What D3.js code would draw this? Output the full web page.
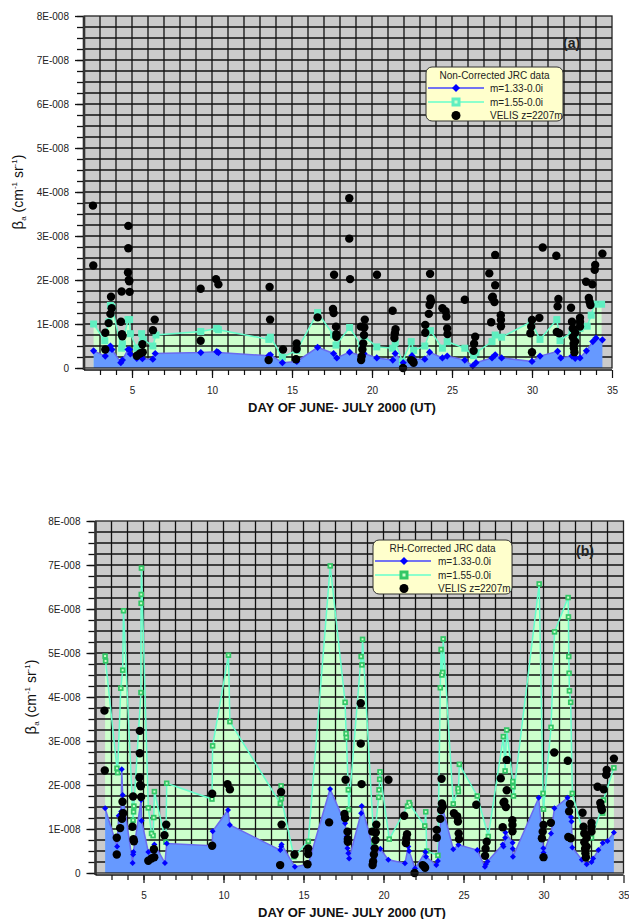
<!DOCTYPE html>
<html><head><meta charset="utf-8">
<script src="https://cdn.jsdelivr.net/npm/d3@7/dist/d3.min.js"></script>
<style>body{margin:0;background:#fff}text{font-family:"Liberation Sans",Arial,sans-serif}</style>
</head><body>
<svg id="c" width="629" height="919"></svg>
<script>
// ---- data (values in units of 1E-008 cm-1 sr-1) ----
const xTicks = [5, 10, 15, 20, 25, 30, 35];
const yTicks = [0, 1, 2, 3, 4, 5, 6, 7, 8];
const yTickLabels = ["0", "1E-008", "2E-008", "3E-008", "4E-008", "5E-008", "6E-008", "7E-008", "8E-008"];
const xTitle = "DAY OF JUNE- JULY 2000 (UT)";
const seriesNames = ["m=1.33-0.0i", "m=1.55-0.0i", "VELIS z=2207m"];
const legendTitles = ["Non-Corrected JRC data", "RH-Corrected JRC data"];
const panelLabels = ["(a)", "(b)"];

const velis = [[2.56,3.69],[2.58,2.33],[3.33,0.80],[3.33,0.42],[3.54,1.02],[3.65,1.23],[3.69,1.62],[3.73,1.36],
 [4.31,1.05],[4.35,1.74],[4.37,0.77],[4.40,0.72],[4.75,2.17],[4.77,3.23],[4.77,2.72],[4.80,2.0],[4.83,1.97],[4.85,1.73],
 [5.30,0.28],[5.50,0.33],[5.65,0.54],[5.67,0.36],[6.31,0.86],[6.42,1.10],[9.29,1.80],[9.29,0.62],[10.25,2.02],[10.40,1.90],
 [13.54,0.18],[13.60,1.84],[13.63,1.10],[14.44,0.42],[15.25,0.20],[15.29,0.56],[15.29,0.43],[16.60,1.15],
 [17.56,1.34],[17.60,1.25],[17.63,2.12],[17.75,0.94],[17.77,0.77],[17.77,0.71],[18.58,3.86],[18.58,2.94],[18.63,2.02],
 [19.30,0.94],[19.32,0.18],[19.35,0.26],[19.40,0.42],[19.45,0.56],[19.50,0.75],[19.52,0.92],[19.55,1.10],[20.31,2.12],
 [21.29,1.30],[21.40,0.68],[21.43,0.79],[21.47,0.88],[21.94,0.0],[22.45,0.18],[22.55,0.15],[22.60,0.12],
 [23.33,0.98],[23.33,0.80],[23.55,1.23],[23.60,1.43],[23.63,2.14],[23.65,1.58],[23.70,1.51],
 [24.40,1.36],[24.60,1.29],[24.65,1.17],[24.70,0.90],[24.72,0.77],[25.80,1.55],[26.35,0.39],[26.38,0.55],[26.45,0.71],
 [27.33,2.15],[27.45,1.04],[27.50,1.60],[27.55,1.62],[27.65,1.50],[27.70,2.57],[27.70,1.88],[28.05,1.20],[28.06,1.09],[28.06,0.95],
 [29.90,0.79],[29.95,0.94],[30.00,1.09],[30.00,0.36],[30.46,1.14],[30.67,2.74],[31.52,2.55],[31.55,0.82],[31.60,1.40],[31.65,1.57],[31.70,0.79],
 [32.44,1.37],[32.50,1.05],[32.55,0.90],[32.55,0.70],[32.60,0.55],[32.62,0.45],[32.65,0.36],[32.70,0.80],[32.70,0.60],
 [33.00,1.14],[33.00,1.05],[33.00,0.94],[33.38,1.96],[33.55,1.59],[33.60,1.50],[33.65,1.43],[33.77,1.90],[33.92,2.23],[33.95,2.34],[34.40,2.60]];

const a155 = [[2.6,1.0],[3.3,0.62],[3.55,1.05],[3.65,1.42],[3.75,1.38],[4.35,0.45],[4.4,0.55],[4.75,1.1],[4.85,1.1],[4.9,0.78],
 [5.3,0.45],[5.6,0.78],[5.7,0.65],[6.3,0.5],[6.5,0.75],[9.3,0.83],[10.3,0.9],[10.4,0.87],[13.55,0.65],[13.65,0.7],[14.4,0.25],
 [15.3,0.4],[16.6,1.26],[17.6,0.75],[17.75,0.52],[18.6,0.92],[19.35,0.5],[19.5,0.72],[20.3,0.48],[21.3,0.45],[21.45,0.58],
 [21.9,0.15],[22.45,0.6],[22.6,0.4],[23.3,0.5],[23.65,0.85],[24.4,0.45],[24.7,0.6],[25.8,0.45],[26.35,0.28],[26.5,0.35],
 [27.5,0.6],[27.7,0.75],[28.1,0.7],[29.95,1.05],[30.5,0.65],[31.55,1.1],[31.75,0.62],[32.5,0.82],[32.7,0.7],[33.0,0.9],
 [33.45,0.95],[33.7,1.2],[33.9,1.45],[34.35,1.45]];

const a133 = [[2.6,0.39],[3.33,0.27],[3.55,0.45],[3.65,0.5],[3.75,0.42],[4.3,0.12],[4.4,0.18],[4.75,0.42],[4.85,0.42],[4.9,0.32],
 [5.3,0.22],[5.6,0.28],[5.65,0.21],[6.3,0.2],[6.45,0.33],[9.3,0.35],[10.3,0.37],[10.4,0.35],[13.55,0.28],[13.65,0.3],[14.4,0.12],
 [15.3,0.15],[16.6,0.47],[17.6,0.33],[17.8,0.23],[18.6,0.36],[19.4,0.27],[19.5,0.33],[20.3,0.23],[21.3,0.18],[21.45,0.33],
 [21.95,0.12],[22.5,0.28],[22.6,0.2],[23.3,0.2],[23.6,0.36],[24.4,0.23],[24.7,0.27],[25.8,0.18],[26.3,0.05],[26.5,0.12],
 [27.5,0.23],[27.7,0.3],[28.1,0.23],[30.0,0.15],[30.5,0.27],[31.6,0.38],[31.8,0.23],[32.5,0.27],[32.7,0.22],[33.0,0.23],
 [33.4,0.39],[33.8,0.6],[34.0,0.68],[34.4,0.64]];

const b155 = [[2.6,4.93],[2.63,4.82],[3.34,2.38],[3.38,2.28],[3.58,4.2],[3.7,4.61],[3.75,5.96],[4.35,1.2],[4.38,1.39],[4.4,1.52],
 [4.84,4.1],[4.85,6.13],[4.86,6.33],[4.87,6.93],[5.3,1.48],[5.5,0.9],[5.6,0.85],[5.64,1.26],[5.68,1.85],[6.4,0.7],[6.45,2.04],
 [9.28,1.68],[9.32,2.89],[10.31,4.95],[10.4,3.44],[13.55,1.58],[13.6,1.98],[13.62,1.69],[14.4,0.37],[15.3,0.72],[16.67,6.98],
 [17.6,3.88],[17.66,3.17],[17.68,3.08],[17.8,1.89],[17.82,1.44],[18.6,4.92],[18.65,4.73],[18.69,5.31],[19.4,0.7],[19.7,1.72],
 [19.72,1.89],[19.76,2.13],[19.78,2.3],[20.36,0.77],[21.5,1.52],[21.6,1.6],[21.65,1.55],[22.58,1.07],[22.64,1.39],[22.7,0.5],
 [23.4,0.4],[23.55,4.21],[23.6,5.08],[23.65,4.5],[23.7,4.56],[23.73,5.32],[24.36,1.57],[24.66,1.92],[24.68,1.85],[24.74,2.47],
 [25.86,1.75],[26.55,0.83],[27.49,3.1],[27.6,2.32],[27.7,3.25],[28.08,2.08],[28.1,1.96],[28.12,1.75],[29.73,6.57],[29.97,1.81],
 [30.0,1.45],[30.47,3.31],[30.69,5.48],[31.54,6.26],[31.56,5.82],[31.58,4.92],[31.6,4.54],[31.62,4.14],[31.7,3.88],[31.8,1.81],
 [32.5,0.9],[33.0,0.8],[33.6,1.43],[33.7,1.36],[33.75,1.66],[34.4,2.39]];

const b133 = [[2.6,1.47],[3.35,0.6],[3.45,1.3],[3.6,1.4],[3.64,2.36],[3.7,1.77],[4.32,0.23],[4.35,0.42],[4.37,0.48],[4.85,1.66],
 [4.88,1.19],[5.3,0.48],[5.68,0.65],[6.34,0.23],[6.45,0.67],[9.3,0.62],[9.32,0.95],[10.28,1.43],[10.4,1.09],[13.55,0.52],
 [13.6,0.6],[13.63,0.65],[14.46,0.14],[15.3,0.2],[16.66,1.91],[17.6,1.13],[17.7,0.83],[17.75,0.56],[17.8,0.45],[17.85,0.33],[18.6,1.36],
 [18.64,1.52],[19.35,0.57],[19.4,0.33],[19.8,0.55],[20.3,0.3],[21.34,0.22],[21.55,0.6],[21.6,0.5],[21.97,0.1],
 [22.62,0.48],[22.66,0.37],[23.3,0.18],[23.4,0.27],[23.64,1.55],[24.36,0.54],[24.68,0.64],[25.86,0.52],[26.34,0.14],[26.4,0.2],[26.5,0.26],
 [27.45,0.65],[27.5,0.6],[27.6,0.8],[27.62,0.92],[28.07,0.69],[28.08,0.55],[28.09,0.37],[29.7,1.71],[29.99,0.56],[30.0,0.46],[30.47,0.9],
 [30.68,1.47],[31.5,1.71],[31.72,1.27],[31.75,1.17],[31.8,0.58],[32.4,0.3],[32.7,0.2],[33.0,0.25],[33.1,0.33],[33.43,0.52],[33.7,0.68],
 [34.0,0.73],[34.4,0.92]];

// ---- drawing ----
const svg = d3.select("#c");

function panel(o) {
  const g = svg.append("g");
  const x = d3.scaleLinear().domain([2, 35]).range([o.l, o.r]);
  const y = d3.scaleLinear().domain([0, 8]).range([o.b, o.t]);
  const cid = "clip" + o.id;
  svg.append("clipPath").attr("id", cid).append("rect")
    .attr("x", o.l).attr("y", o.t).attr("width", o.r - o.l).attr("height", o.b - o.t);

  g.append("rect").attr("x", o.l).attr("y", o.t).attr("width", o.r - o.l).attr("height", o.b - o.t)
    .attr("fill", "#cbcbcb");

  const area = d3.area().x(d => x(d[0])).y0(y(0)).y1(d => y(d[1]));
  const line = d3.line().x(d => x(d[0])).y(d => y(d[1]));
  const inner = g.append("g").attr("clip-path", `url(#${cid})`);

  inner.append("path").datum(o.s155).attr("d", area).attr("fill", "#ccffcc");

  // grid
  inner.selectAll(".gv").data(d3.range(3, 35)).join("line")
    .attr("x1", d => x(d)).attr("x2", d => x(d)).attr("y1", o.t).attr("y2", o.b)
    .attr("stroke", "#111").attr("stroke-width", 1.3);
  inner.selectAll(".gh").data(d3.range(1, 32).map(i => i * 0.25)).join("line")
    .attr("x1", o.l).attr("x2", o.r).attr("y1", d => y(d)).attr("y2", d => y(d))
    .attr("stroke", "#111").attr("stroke-width", 1.3);

  inner.append("path").datum(o.s155).attr("d", line).attr("fill", "none")
    .attr("stroke", "#66ffcc").attr("stroke-width", 1.5);
  inner.append("path").datum(o.s133).attr("d", area).attr("fill", "#6699ff");
  inner.append("path").datum(o.s133).attr("d", line).attr("fill", "none")
    .attr("stroke", "#6a6af0").attr("stroke-width", 1.5);

  // markers
  const sq = o.sqSize;
  g.selectAll(".sq").data(o.s155).join("rect")
    .attr("x", d => x(d[0]) - sq / 2).attr("y", d => y(d[1]) - sq / 2)
    .attr("width", sq).attr("height", sq).attr("fill", o.sqColor);
  if (o.sqDot) {
    g.selectAll(".sqd").data(o.s155).join("rect")
      .attr("x", d => x(d[0]) - 1).attr("y", d => y(d[1]) - 1)
      .attr("width", 2).attr("height", 2).attr("fill", "#ccffcc");
  }
  const dm = o.dmSize;
  g.selectAll(".dm").data(o.s133).join("path")
    .attr("d", d => `M${x(d[0])},${y(d[1]) - dm}L${x(d[0]) + dm},${y(d[1])}L${x(d[0])},${y(d[1]) + dm}L${x(d[0]) - dm},${y(d[1])}Z`)
    .attr("fill", "#0000ff");
  g.selectAll(".ci").data(velis).join("circle")
    .attr("cx", d => x(d[0])).attr("cy", d => y(d[1])).attr("r", 4.2).attr("fill", "#000");

  // frame
  g.append("rect").attr("x", o.l).attr("y", o.t).attr("width", o.r - o.l).attr("height", o.b - o.t)
    .attr("fill", "none").attr("stroke", "#222").attr("stroke-width", 1.3);
  g.append("line").attr("x1", o.l).attr("x2", o.l).attr("y1", o.t).attr("y2", o.b + 2)
    .attr("stroke", "#333").attr("stroke-width", 2.6);

  // y axis
  const yAx = g.append("g").attr("transform", `translate(${o.l - 1},0)`)
    .call(d3.axisLeft(y).tickValues(yTicks).tickFormat((d, i) => yTickLabels[i]).tickSize(8).tickPadding(6));
  yAx.select(".domain").remove();
  yAx.selectAll("line").attr("stroke", "#111").attr("stroke-width", 1.3);
  yAx.selectAll("text").attr("font-size", 10).attr("fill", "#222")
    .style("font-family", '"Liberation Sans", Arial, sans-serif');
  const yMin = g.append("g").attr("transform", `translate(${o.l - 1},0)`)
    .call(d3.axisLeft(y).tickValues(d3.range(0, 33).map(i => i * 0.25)).tickFormat("").tickSize(6));
  yMin.select(".domain").remove();
  yMin.selectAll("line").attr("stroke", "#111").attr("stroke-width", 1.3);

  // x axis
  const xAx = g.append("g").attr("transform", `translate(0,${o.b + 2})`)
    .call(d3.axisBottom(x).tickValues(xTicks).tickSize(8).tickPadding(9));
  xAx.select(".domain").attr("stroke", "#111").attr("stroke-width", 1.3).attr("d", `M${o.l},0H${o.r}`);
  xAx.selectAll("line").attr("stroke", "#111").attr("stroke-width", 1.2);
  xAx.selectAll("text").attr("font-size", 10).attr("fill", "#222")
    .style("font-family", '"Liberation Sans", Arial, sans-serif');
  const xMin = g.append("g").attr("transform", `translate(0,${o.b + 2})`)
    .call(d3.axisBottom(x).tickValues(d3.range(3, 35)).tickFormat("").tickSize(5));
  xMin.select(".domain").remove();
  xMin.selectAll("line").attr("stroke", "#111").attr("stroke-width", 1.2);

  // titles
  g.append("text").attr("x", o.xtX).attr("y", o.xtY).attr("text-anchor", "middle")
    .attr("font-size", 13).attr("font-weight", "bold").attr("fill", "#111").text(xTitle);
  const yt = g.append("text").attr("transform", `translate(${o.ytX},${(o.t + o.b) / 2}) rotate(-90)`)
    .attr("text-anchor", "middle").attr("font-size", 14).attr("fill", "#111");
  yt.append("tspan").attr("font-size", 15).text("β");
  yt.append("tspan").attr("font-size", 8).attr("dy", 3).text("a");
  yt.append("tspan").attr("dy", -3).text(" (cm");
  yt.append("tspan").attr("font-size", 8).attr("dy", -6).text("-1");
  yt.append("tspan").attr("dy", 6).text(" sr");
  yt.append("tspan").attr("font-size", 8).attr("dy", -6).text("-1");
  yt.append("tspan").attr("dy", 6).text(")");

  g.append("text").attr("x", o.plX).attr("y", o.plY).attr("font-size", 14).attr("font-weight", "bold")
    .attr("fill", "#222").text(o.label);

  // legend
  const L = o.leg;
  const lg = g.append("g");
  lg.append("rect").attr("x", L.x).attr("y", L.y).attr("width", L.w).attr("height", L.h)
    .attr("rx", 6).attr("fill", "#ffffcc").attr("stroke", "#333").attr("stroke-width", 1);
  lg.append("text").attr("x", L.x + L.w / 2).attr("y", L.y + 12).attr("text-anchor", "middle")
    .attr("font-size", 10).attr("fill", "#222").text(o.legTitle);
  const rows = [L.y + 21, L.y + 35, L.y + 48.5];
  lg.append("line").attr("x1", L.x + 2).attr("x2", L.x + 58).attr("y1", rows[0]).attr("y2", rows[0])
    .attr("stroke", "#4444ff").attr("stroke-width", 1.3);
  lg.append("path").attr("d", `M${L.mx},${rows[0] - 4}L${L.mx + 4},${rows[0]}L${L.mx},${rows[0] + 4}L${L.mx - 4},${rows[0]}Z`)
    .attr("fill", "#0000ff");
  lg.append("line").attr("x1", L.x + 2).attr("x2", L.x + 58).attr("y1", rows[1]).attr("y2", rows[1])
    .attr("stroke", "#66ffcc").attr("stroke-width", 1.3);
  lg.append("rect").attr("x", L.mx - 4.5).attr("y", rows[1] - 4.5).attr("width", 9).attr("height", 9)
    .attr("fill", o.sqColor);
  lg.append("rect").attr("x", L.mx - 1.5).attr("y", rows[1] - 1.5).attr("width", 3).attr("height", 3)
    .attr("fill", "#ccffcc");
  lg.append("circle").attr("cx", L.mx).attr("cy", rows[2]).attr("r", 4.5).attr("fill", "#000");
  seriesNames.forEach((s, i) => {
    lg.append("text").attr("x", L.tx).attr("y", rows[i] + 3.5).attr("font-size", 10).attr("fill", "#222").text(s);
  });
}

panel({id: "a", l: 84, r: 612, t: 16, b: 368, s133: a133, s155: a155,
  sqColor: "#5fefc0", sqSize: 7, sqDot: false, dmSize: 3.6,
  xtX: 342, xtY: 412, ytX: 23, plX: 563, plY: 48, label: panelLabels[0], legTitle: legendTitles[0],
  leg: {x: 426, y: 67, w: 137, h: 54, mx: 456, tx: 490}});

panel({id: "b", l: 95.5, r: 623.5, t: 521, b: 873, s133: b133, s155: b155,
  sqColor: "#33c766", sqSize: 5.5, sqDot: true, dmSize: 3,
  xtX: 352, xtY: 917, ytX: 36, plX: 576, plY: 556, label: panelLabels[1], legTitle: legendTitles[1],
  leg: {x: 373, y: 540, w: 139, h: 54, mx: 404, tx: 438}});
</script>
</body></html>
